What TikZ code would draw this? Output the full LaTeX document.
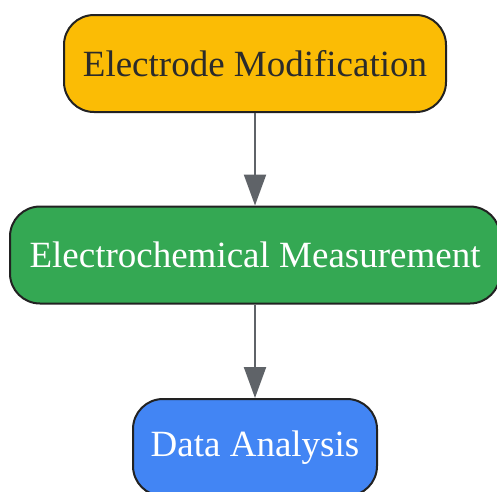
\documentclass[tikz,border=0pt]{standalone}
\usepackage{fontspec}
\setmainfont{Liberation Serif}
\usepackage{xcolor}
\usetikzlibrary{arrows.meta,positioning}

\definecolor{modyellow}{HTML}{FBBC05}
\definecolor{measgreen}{HTML}{34A853}
\definecolor{datablue}{HTML}{4285F4}
\definecolor{linkgray}{HTML}{5F6368}
\definecolor{edgedark}{HTML}{222222}
\definecolor{textdark}{HTML}{2B2B2B}

\begin{document}
\begin{tikzpicture}[
    x=1pt, y=1pt,
    stepbox/.style={draw=edgedark, line width=2pt, rounded corners=30pt,
        minimum height=97pt, inner sep=0pt,
        font=\fontsize{37}{44}\selectfont},
    arrow/.style={-{Triangle[length=31pt,width=22pt]}, line width=2.2pt, linkgray}
]
\useasboundingbox (0,0) rectangle (497,-491);

% === Steps ===
\node[stepbox, fill=modyellow, text=textdark, minimum width=382pt] (modify) at (255,-63.5) {Electrode Modification};
\node[stepbox, fill=measgreen, text=white, minimum width=490pt] (measure) at (255,-255) {Electrochemical Measurement};
\node[stepbox, fill=datablue, text=white, minimum width=244pt] (analyse) at (255,-447.5) {Data Analysis};

% === Flow ===
\draw[arrow] (modify) -- (measure);
\draw[arrow] (measure) -- (analyse);

\end{tikzpicture}
\end{document}
